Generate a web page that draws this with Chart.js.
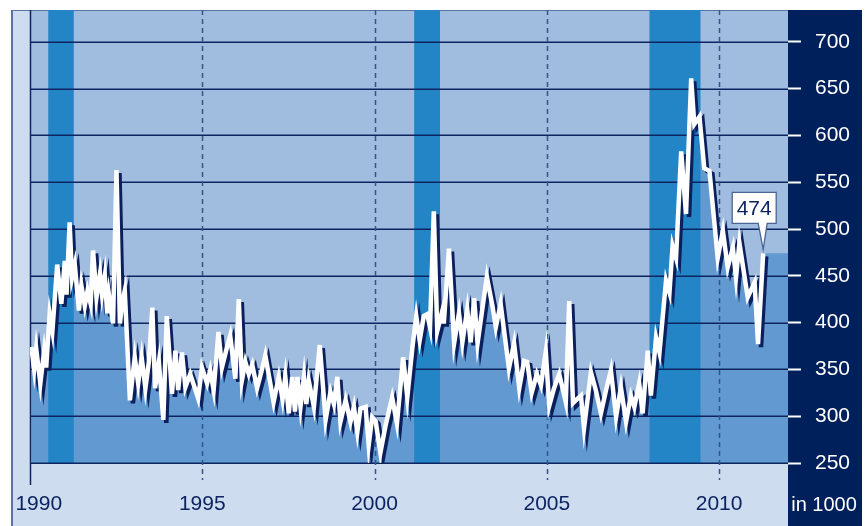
<!DOCTYPE html>
<html><head><meta charset="utf-8">
<script src="https://cdn.jsdelivr.net/npm/chart.js@4/dist/chart.umd.min.js"></script>
<style>html,body{margin:0;padding:0;background:#fff;overflow:hidden}</style>
</head><body>
<canvas id="c" width="867" height="526"></canvas>
<script>
// ---- data (decimal year, claims in 1000) ----
const dates = [1990.04,1990.12,1990.18,1990.30,1990.41,1990.47,1990.57,1990.65,1990.79,1990.91,
1991.01,1991.06,1991.15,1991.22,1991.30,1991.42,1991.49,1991.59,1991.67,1991.76,1991.83,1991.93,
1992.03,1992.09,1992.17,1992.24,1992.29,1992.41,1992.51,1992.61,1992.67,1992.75,1992.90,
1993.04,1993.14,1993.24,1993.35,1993.45,1993.55,1993.63,1993.74,1993.87,1993.97,
1994.12,1994.22,1994.30,1994.41,1994.51,1994.65,1994.74,1994.88,1994.99,
1995.14,1995.23,1995.33,1995.47,1995.57,1995.72,1995.81,1995.96,
1996.06,1996.15,1996.25,1996.35,1996.45,1996.59,1996.72,1996.83,1996.95,
1997.07,1997.22,1997.33,1997.41,1997.51,1997.61,1997.69,1997.76,1997.85,1997.95,
1998.02,1998.09,1998.24,1998.41,1998.58,1998.72,1998.82,1998.92,
1999.01,1999.16,1999.30,1999.40,1999.50,1999.59,1999.74,1999.83,1999.93,
2000.03,2000.17,2000.32,2000.51,2000.65,2000.83,2000.95,
2001.10,2001.21,2001.31,2001.43,2001.53,2001.61,2001.72,2001.82,2001.97,
2002.01,2002.16,2002.31,2002.45,2002.55,2002.69,2002.79,2002.89,2002.99,
2003.13,2003.26,2003.42,2003.52,2003.66,2003.90,
2004.05,2004.20,2004.34,2004.43,2004.56,2004.71,2004.83,2004.97,
2005.07,2005.21,2005.36,2005.55,2005.65,2005.76,2005.87,2005.99,
2006.08,2006.28,2006.42,2006.57,2006.72,2006.86,
2007.01,2007.15,2007.30,2007.44,2007.54,2007.68,2007.78,2007.93,
2008.02,2008.17,2008.27,2008.46,2008.56,2008.65,2008.75,2008.90,
2009.04,2009.19,2009.28,2009.43,2009.57,2009.72,2009.96,
2010.11,2010.25,2010.40,2010.49,2010.59,2010.83,
2011.03,2011.13,2011.28];
const claims = [374,350,372,335,370,352,409,391,462,420,
466,430,507,448,462,413,440,418,434,420,477,427,
452,430,450,410,430,399,563,399,420,434,317,
363,335,363,330,358,416,330,358,296,407,
324,370,328,368,331,345,335,319,352,
335,349,328,390,352,374,386,340,
425,338,358,345,355,330,348,365,340,
315,342,318,342,303,342,305,342,310,342,
313,338,310,376,296,326,313,342,
294,317,294,310,283,308,310,269,299,
295,261,290,320,292,363,320,
374,407,381,407,409,395,519,391,413,
399,479,378,410,379,414,379,426,378,
415,449,418,395,420,351,
378,330,359,358,325,345,333,369,
311,330,345,315,423,314,318,322,
287,347,328,303,328,349,
299,331,294,322,310,335,303,370,
322,384,368,445,432,482,469,583,
516,661,612,620,565,562,469,
498,459,480,448,485,427,
443,377,474];
const recessionStart = [1990.53, 2001.15, 2007.98];
const recessionEnd   = [1991.27, 2001.90, 2009.46];
const xTickYears = [1990, 1995, 2000, 2005, 2010];
const yTickValues = [250, 300, 350, 400, 450, 500, 550, 600, 650, 700];
const unitLabel = 'in 1000';
const xMin = 1990, xMax = 2012, yMin = 250, yMax = 734;

const FONT = '"Liberation Sans", Arial, sans-serif';
const NAVY = '#0d2461';

const linePts = dates.map((d, i) => ({x: d, y: claims[i]}));
const fillPts = linePts.concat([{x: xMax, y: claims[claims.length - 1]}]);

const decor = {
  id: 'decor',
  beforeDraw(chart) {
    const {ctx, chartArea: a} = chart;
    const W = chart.width, H = chart.height;
    ctx.save();
    ctx.fillStyle = '#ffffff'; ctx.fillRect(0, 0, W, H);
    ctx.fillStyle = '#cddcee'; ctx.fillRect(12, 10, a.right - 12, H - 10);
    ctx.fillStyle = '#a0bde0'; ctx.fillRect(a.left, a.top, a.right - a.left, a.bottom - a.top);
    ctx.fillStyle = '#00205b'; ctx.fillRect(a.right, 10, 862 - a.right, H - 10);
    ctx.strokeStyle = '#5b72a0';
    ctx.lineWidth = 2;
    ctx.beginPath(); ctx.moveTo(12, 10); ctx.lineTo(12, H); ctx.stroke();
    ctx.lineWidth = 1;
    ctx.beginPath(); ctx.moveTo(12, 10.5); ctx.lineTo(a.right, 10.5); ctx.stroke();
    ctx.restore();
  },
  beforeDatasetDraw(chart, args) {
    if (args.index === 0) {
      const ctx = chart.ctx;
      ctx.save();
      ctx.shadowColor = '#0a1f5c';
      ctx.shadowOffsetX = 3;
      ctx.shadowOffsetY = 3;
      ctx.shadowBlur = 0;
    }
  },
  afterDatasetDraw(chart, args) {
    const {ctx, chartArea: a} = chart;
    if (args.index === 0) { ctx.restore(); return; }
    if (args.index !== 1) return;
    const xs = chart.scales.x, ys = chart.scales.y;
    ctx.save();
    // recession bands
    ctx.fillStyle = '#2384c6';
    recessionStart.forEach((s, i) => {
      const x0 = xs.getPixelForValue(s), x1 = xs.getPixelForValue(recessionEnd[i]);
      ctx.fillRect(x0, a.top, x1 - x0, a.bottom - a.top);
    });
    // horizontal grid
    ctx.strokeStyle = NAVY;
    ctx.lineWidth = 1.5;
    yTickValues.forEach(v => {
      const y = Math.round(ys.getPixelForValue(v)) + 0.25;
      ctx.beginPath(); ctx.moveTo(a.left, y); ctx.lineTo(a.right, y); ctx.stroke();
    });
    // vertical year lines
    xTickYears.forEach((yr, i) => {
      const x = Math.round(xs.getPixelForValue(yr)) + 0.5;
      ctx.beginPath();
      if (i === 0) {
        ctx.setLineDash([]);
        ctx.strokeStyle = NAVY;
        ctx.lineWidth = 1.5;
        ctx.moveTo(x, a.top); ctx.lineTo(x, a.bottom + 22);
      } else {
        ctx.setLineDash([5, 4]);
        ctx.strokeStyle = '#34548a';
        ctx.lineWidth = 1.5;
        ctx.moveTo(x, a.top); ctx.lineTo(x, a.bottom + 17);
      }
      ctx.stroke();
    });
    ctx.restore();
  },
  afterDraw(chart) {
    const {ctx} = chart;
    ctx.save();
    // unit label
    ctx.fillStyle = '#ffffff';
    ctx.font = '20px ' + FONT;
    ctx.textAlign = 'center';
    ctx.textBaseline = 'middle';
    ctx.fillText(unitLabel, 824, 505);
    // last value callout
    const meta = chart.getDatasetMeta(0);
    const pt = meta.data[meta.data.length - 1];
    const px = pt.x, py = pt.y;
    const bl = px - 31, bt = py - 61, bw = 44, bh = 31;
    ctx.beginPath();
    ctx.moveTo(bl, bt);
    ctx.lineTo(bl + bw, bt);
    ctx.lineTo(bl + bw, bt + bh);
    ctx.lineTo(px + 4, bt + bh);
    ctx.lineTo(px, py - 4);
    ctx.lineTo(px - 5, bt + bh);
    ctx.lineTo(bl, bt + bh);
    ctx.closePath();
    ctx.fillStyle = '#ffffff';
    ctx.fill();
    ctx.strokeStyle = '#4a6494';
    ctx.lineWidth = 1.3;
    ctx.stroke();
    ctx.fillStyle = NAVY;
    ctx.font = '21px ' + FONT;
    ctx.fillText(String(claims[claims.length - 1]), bl + bw / 2, bt + bh / 2 + 1);
    ctx.restore();
  }
};

new Chart(document.getElementById('c'), {
  type: 'line',
  data: {
    datasets: [
      {
        data: linePts, order: 1,
        borderColor: '#ffffff', borderWidth: 4.5, borderJoinStyle: 'miter',
        pointRadius: 0, fill: false, tension: 0
      },
      {
        data: fillPts, order: 2,
        borderWidth: 0, borderColor: 'rgba(0,0,0,0)', backgroundColor: '#6199d0',
        pointRadius: 0, fill: 'start', tension: 0
      }
    ]
  },
  options: {
    responsive: false,
    animation: false,
    devicePixelRatio: 1,
    layout: {padding: {left: 30, top: 10, right: 5, bottom: 0}},
    plugins: {legend: {display: false}, tooltip: {enabled: false}},
    scales: {
      x: {
        type: 'linear', min: xMin, max: xMax,
        afterFit(s) { s.height = 63; s.paddingLeft = 0; s.paddingRight = 0; },
        afterBuildTicks(s) { s.ticks = xTickYears.map(v => ({value: v})); },
        grid: {display: false, drawTicks: false},
        border: {display: false},
        ticks: {
          autoSkip: false, maxRotation: 0, padding: 29, color: NAVY,
          font: {family: FONT, size: 21},
          callback: v => (v === 1990 ? '   ' : '') + String(v)
        }
      },
      y: {
        position: 'right', min: yMin, max: yMax,
        afterFit(s) { s.width = 74; s.paddingTop = 0; s.paddingBottom = 0; },
        afterBuildTicks(s) { s.ticks = yTickValues.map(v => ({value: v})); },
        grid: {drawOnChartArea: false, drawTicks: true, tickLength: 13, tickColor: '#ffffff', tickWidth: 2, color: 'rgba(0,0,0,0)'},
        border: {display: false},
        ticks: {padding: 14, color: '#ffffff', font: {family: FONT, size: 21}}
      }
    }
  },
  plugins: [decor]
});
</script>
</body></html>
